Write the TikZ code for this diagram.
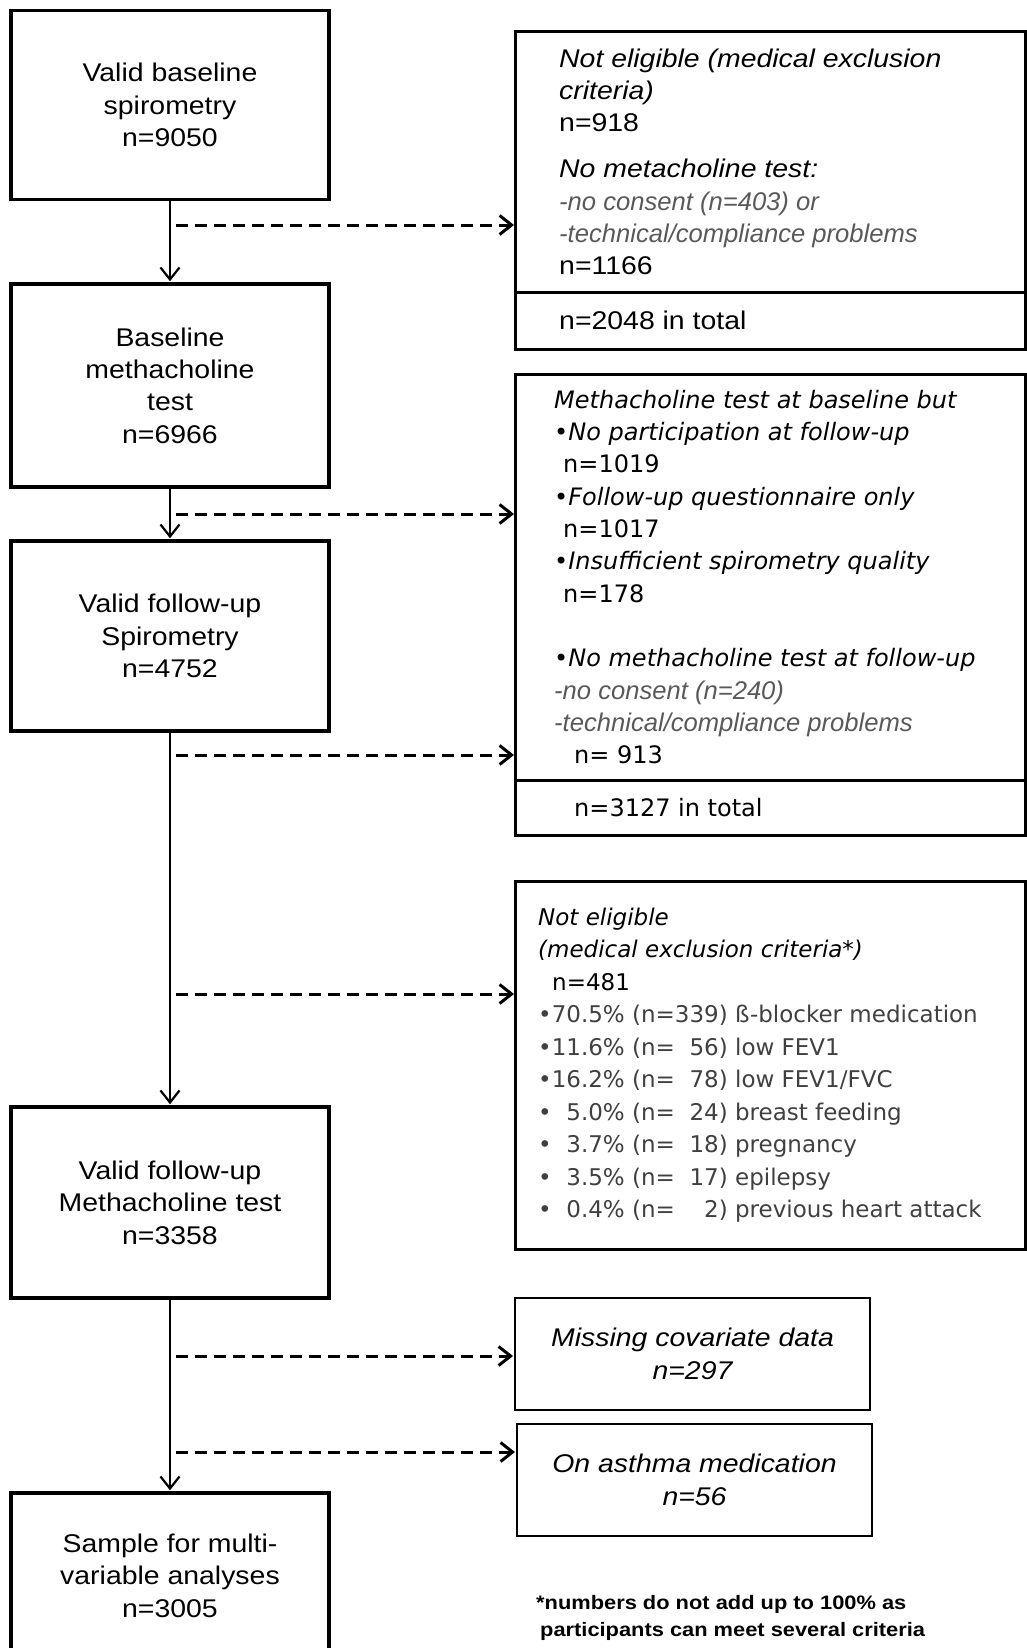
\documentclass[tikz,border=0pt]{standalone}
\usepackage{fontspec}
\setmainfont{Liberation Sans}
\newfontfamily\arialfont[FakeStretch=1.11]{Liberation Sans}
\newfontfamily\lightfont{Liberation Sans}
\newfontfamily\verdfont{DejaVu Sans}
\newfontfamily\notefont[FakeStretch=1.12]{Liberation Sans}
\usepackage{tikz}
\usetikzlibrary{positioning,arrows.meta}
\tikzset{
  >={Straight Barb[length=12pt,width=19pt]},
  shorten >=1pt,
}

\begin{document}
\begin{tikzpicture}[
  x=1pt, y=-1pt,
  mainbox/.style={draw, line width=3.5pt, minimum width=318pt, align=center,
    font=\arialfont\fontsize{25.6}{32.4}\selectfont},
  sidebox/.style={draw, line width=3pt, outer sep=0pt, minimum width=510pt},
  sidetext/.style={anchor=west, align=left, inner sep=0pt},
  smallbox/.style={draw, line width=2pt, minimum width=355pt, minimum height=112pt, align=center,
    font=\arialfont\itshape\fontsize{25.6}{32.6}\selectfont},
  flow/.style={->, line width=2.2pt},
  skip/.style={->, line width=3pt, dash pattern=on 12pt off 7pt}
]
\useasboundingbox (0,0) rectangle (1027,1648);

\node[mainbox, minimum height=189pt] (spiro) at (170,105) {Valid baseline\\spirometry\\n=9050};
\node[mainbox, minimum height=203pt] (methbase) at (170,385.5) {Baseline\\methacholine\\test\\n=6966};
\node[mainbox, minimum height=190pt] (spirofu) at (170,636) {Valid follow-up\\Spirometry\\n=4752};
\node[mainbox, minimum height=191pt] (methfu) at (170,1202.5) {Valid follow-up\\Methacholine test\\n=3358};
\node[mainbox, minimum height=165pt] (sample) at (170,1575.5) {Sample for multi-\\variable analyses\\n=3005};

\node[sidebox, minimum height=260.5pt] (excl1) at (770,161.75) {};
\node[sidebox, minimum height=57pt, below=0pt of excl1] (excl1tot) {};
\node[sidebox, minimum height=406pt] (lost) at (770,577) {};
\node[sidebox, minimum height=55pt, below=0pt of lost] (losttot) {};
\node[sidebox, minimum height=368pt] (excl2) at (770,1065) {};
\node[smallbox] (covar) at (692.5,1354) {Missing covariate data\\n=297};
\node[smallbox] (asthma) at (694.5,1480) {On asthma medication\\n=56};

\node[sidetext, font=\arialfont\itshape\fontsize{25.6}{32.2}\selectfont] (excl1txt) at (excl1.west) [xshift=44pt]
  {Not eligible (medical exclusion\\criteria)\\{\upshape n=918}\\[14pt]No metacholine test:\\
   {\lightfont\color{black!65}-no consent (n=403) or}\\{\lightfont\color{black!65}-technical/compliance problems}\\{\upshape n=1166}};
\node[sidetext, font=\arialfont\fontsize{25.6}{32.2}\selectfont] (excl1tottxt) at (excl1tot.west) [xshift=44pt] {n=2048 in total};

\node[sidetext, font=\verdfont\fontsize{24}{32.3}\selectfont] (losttxt) at (lost.west) [xshift=39pt]
  {\textit{Methacholine test at baseline but}\\\textit{•No participation at follow-up}\\\hspace*{9pt}n=1019\\
   \textit{•Follow-up questionnaire only}\\\hspace*{9pt}n=1017\\\textit{•Insufficient spirometry quality}\\\hspace*{9pt}n=178\\[32.3pt]
   \textit{•No methacholine test at follow-up}\\{\lightfont\itshape\fontsize{25.6}{32.3}\selectfont\color{black!65}-no consent (n=240)}\\
   {\lightfont\itshape\fontsize{25.6}{32.3}\selectfont\color{black!65}-technical/compliance problems}\\\hspace*{20pt}n= 913};
\node[sidetext, font=\verdfont\fontsize{24}{32.3}\selectfont] (losttottxt) at (losttot.west) [xshift=59pt] {n=3127 in total};

\node[sidetext, font=\verdfont\fontsize{23}{32.5}\selectfont] (excl2txt) at (excl2.west) [xshift=23pt]
  {\textit{Not eligible}\\\textit{(medical exclusion criteria*)}\\\hspace*{14pt}n=481\\
   {\color{black!75}•70.5\% (n=339) ß-blocker medication}\\
   {\color{black!75}•11.6\% (n=\phantom{3}56) low FEV1}\\
   {\color{black!75}•16.2\% (n=\phantom{3}78) low FEV1/FVC}\\
   {\color{black!75}•\phantom{1}5.0\% (n=\phantom{3}24) breast feeding}\\
   {\color{black!75}•\phantom{1}3.7\% (n=\phantom{3}18) pregnancy}\\
   {\color{black!75}•\phantom{1}3.5\% (n=\phantom{3}17) epilepsy}\\
   {\color{black!75}•\phantom{1}0.4\% (n=\phantom{33}2) previous heart attack}};

\node[sidetext, font=\notefont\bfseries\fontsize{19.5}{26.5}\selectfont] (note) at (536,1618)
  {*numbers do not add up to 100\% as\\\hspace*{4pt}participants can meet several criteria};

\draw[flow] (spiro) -- (methbase);
\draw[flow] (methbase) -- (spirofu);
\draw[flow] (spirofu) -- (methfu);
\draw[flow] (methfu) -- (sample);

\coordinate (s1) at (176,225);
\coordinate (s2) at (176,514);
\coordinate (s3) at (176,755);
\coordinate (s4) at (176,994);
\coordinate (s5) at (176,1356);
\coordinate (s6) at (176,1452);
\draw[skip] (s1) -- (s1 -| excl1.west);
\draw[skip] (s2) -- (s2 -| lost.west);
\draw[skip] (s3) -- (s3 -| lost.west);
\draw[skip] (s4) -- (s4 -| excl2.west);
\draw[skip] (s5) -- (s5 -| covar.west);
\draw[skip] (s6) -- (s6 -| asthma.west);
\end{tikzpicture}
\end{document}
